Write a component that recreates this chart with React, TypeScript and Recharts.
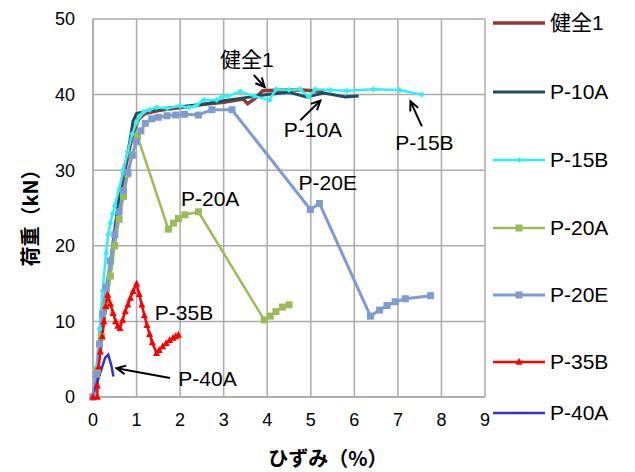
import React from 'react';
import { LineChart, Line, XAxis, YAxis, CartesianGrid, Legend, ReferenceLine, ReferenceDot } from 'recharts';

const FONT = '"Liberation Sans", Arial, "Noto Sans CJK JP", sans-serif';
const CJK = '"Noto Sans CJK JP", "Liberation Sans", sans-serif';

// ---- data (strain %, load kN) ----
const KENZEN_X = [0, 0.15, 0.3, 0.45, 0.6, 0.75, 0.9, 1.05, 1.2, 1.5, 2.0, 2.5, 3.0, 3.45, 3.55, 3.7, 3.9, 4.3, 4.8, 5.3];
const KENZEN_Y = [0, 6, 12.5, 19, 25, 30.5, 34.5, 36.8, 37.5, 37.9, 38.3, 38.7, 39.0, 39.4, 38.8, 39.4, 40.5, 40.6, 40.6, 40.4];

const P10A_X = [0, 0.15, 0.3, 0.45, 0.6, 0.7, 0.77, 0.85, 0.92, 1.0, 1.2, 1.5, 2.0, 2.5, 3.0, 3.5, 4.0, 4.5, 4.9, 5.3, 5.8, 6.1];
const P10A_Y = [0, 6, 13, 20, 26.5, 30, 31.5, 34, 36.5, 37.5, 37.8, 38.1, 38.4, 38.7, 39.2, 39.6, 40.0, 40.3, 39.7, 40.2, 39.7, 39.8];

const P15B_X = [0, 0.08, 0.15, 0.22, 0.3, 0.35, 0.4, 0.45, 0.5, 0.6, 0.7, 0.8, 0.9, 1.0, 1.08, 1.16, 1.3, 1.46, 1.7, 2.0, 2.2, 2.38, 2.54, 2.84, 2.96, 3.1, 3.38, 3.7, 4.05, 4.2, 4.5, 4.76, 4.95, 5.1, 5.45, 5.83, 6.44, 7.04, 7.55];
const P15B_Y = [0, 4, 9, 14, 19, 21.5, 23, 24.2, 25.3, 27.5, 30, 32.5, 34.8, 36.3, 37.2, 37.7, 38, 38.3, 38.2, 38.5, 38.3, 38.6, 39.3, 39.3, 39.7, 39.8, 40.4, 39.8, 39.3, 40.7, 40.6, 40.7, 39.7, 40.7, 40.6, 40.5, 40.7, 40.6, 40.0];

const P20A_X = [0, 0.1, 0.2, 0.3, 0.4, 0.5, 0.6, 0.7, 0.8, 0.9, 1.02, 1.73, 1.85, 1.96, 2.11, 2.42, 3.93, 4.07, 4.2, 4.35, 4.5];
const P20A_Y = [0, 3.5, 8, 12, 16, 20, 23.5, 26.5, 29.5, 32, 34.5, 22.2, 23, 23.6, 24.1, 24.5, 10.2, 10.7, 11.3, 11.9, 12.2];

const P20E_X = [0, 0.08, 0.15, 0.22, 0.3, 0.4, 0.5, 0.6, 0.7, 0.8, 0.9, 1.0, 1.1, 1.2, 1.35, 1.5, 1.7, 1.9, 2.1, 2.42, 2.73, 3.19, 4.99, 5.2, 6.37, 6.58, 6.75, 6.94, 7.17, 7.75];
const P20E_Y = [0, 3, 7, 11, 14.5, 18, 21.5, 24.5, 27.3, 29.7, 32, 33.8, 35.2, 36.2, 36.8, 37, 37.2, 37.3, 37.4, 37.3, 38, 38, 24.8, 25.6, 10.7, 11.5, 12.1, 12.6, 13, 13.4];

const P35B_X = [0, 0.1, 0.1, 0.13, 0.17, 0.21, 0.25, 0.29, 0.34, 0.4, 0.46, 0.52, 0.57, 0.62, 0.68, 0.74, 0.8, 0.86, 0.92, 1.0, 1.06, 1.12, 1.18, 1.24, 1.3, 1.36, 1.46, 1.52, 1.6, 1.68, 1.76, 1.84, 1.9, 1.96];
const P35B_Y = [0, 0, 1.5, 4, 6, 8, 10, 12, 13.5, 12.3, 11.1, 10, 9.4, 9.1, 10.2, 11.3, 12.2, 13.1, 14, 15, 13.6, 12.2, 10.8, 9.5, 8.3, 7.2, 5.8, 6.2, 6.7, 7.1, 7.5, 7.8, 8, 8.2];

const P40A_X = [0, 0.1, 0.2, 0.28, 0.35, 0.42, 0.47];
const P40A_Y = [0.5, 2, 3.8, 5.2, 5.6, 4.2, 2.7];

const X_TICKS = [0, 1, 2, 3, 4, 5, 6, 7, 8, 9];
const Y_TICKS = [0, 10, 20, 30, 40, 50];

const toPts = (xs: number[], ys: number[]) => xs.map((x, i) => ({ x, y: ys[i] }));

type Marker = 'none' | 'square' | 'triangle' | 'diamond';
const SERIES: { name: string; color: string; width: number; marker: Marker; size: number; data: { x: number; y: number }[] }[] = [
  { name: '健全1', color: '#953735', width: 3.5, marker: 'none', size: 0, data: toPts(KENZEN_X, KENZEN_Y) },
  { name: 'P-10A', color: '#1F4E5F', width: 3, marker: 'none', size: 0, data: toPts(P10A_X, P10A_Y) },
  { name: 'P-15B', color: '#2EF2F2', width: 2.5, marker: 'diamond', size: 6, data: toPts(P15B_X, P15B_Y) },
  { name: 'P-20A', color: '#9BBB59', width: 2.5, marker: 'square', size: 7, data: toPts(P20A_X, P20A_Y) },
  { name: 'P-20E', color: '#7E9CCF', width: 3, marker: 'square', size: 7, data: toPts(P20E_X, P20E_Y) },
  { name: 'P-35B', color: '#FF0000', width: 2.5, marker: 'triangle', size: 7, data: toPts(P35B_X, P35B_Y) },
  { name: 'P-40A', color: '#3333CC', width: 2.5, marker: 'none', size: 0, data: toPts(P40A_X, P40A_Y) },
];

const NOTE_TEXT: { label: string; x: number; y: number }[] = [
  { label: '健全1', x: 3.53, y: 44.6 },
  { label: 'P-10A', x: 5.05, y: 35.4 },
  { label: 'P-15B', x: 7.61, y: 33.7 },
  { label: 'P-20A', x: 2.69, y: 26.3 },
  { label: 'P-20E', x: 5.39, y: 28.4 },
  { label: 'P-35B', x: 2.09, y: 11.2 },
  { label: 'P-40A', x: 2.63, y: 2.4 },
];
const NOTE_ARROWS: { from: { x: number; y: number }; to: { x: number; y: number } }[] = [
  { from: { x: 3.69, y: 42.6 }, to: { x: 3.94, y: 41.0 } },
  { from: { x: 4.76, y: 36.6 }, to: { x: 5.22, y: 39.2 } },
  { from: { x: 7.55, y: 35.8 }, to: { x: 7.29, y: 39.1 } },
  { from: { x: 1.77, y: 2.5 }, to: { x: 0.54, y: 3.8 } },
];

const LEGEND_TOPS = [15, 84, 152, 220, 287, 354, 405];

function markerShape(kind: Marker, color: string, size: number, cx: number, cy: number, key?: any) {
  const h = size / 2;
  if (kind === 'square') return <rect key={key} x={cx - h} y={cy - h} width={size} height={size} fill={color} />;
  if (kind === 'triangle')
    return <polygon key={key} points={`${cx},${cy - size * 0.6} ${cx - h},${cy + size * 0.4} ${cx + h},${cy + size * 0.4}`} fill={color} />;
  if (kind === 'diamond')
    return <polygon key={key} points={`${cx},${cy - h} ${cx + h},${cy} ${cx},${cy + h} ${cx - h},${cy}`} fill={color} />;
  return <g key={key} />;
}

const makeDot = (kind: Marker, color: string, size: number) => (p: any) => {
  const k = `d-${p.index}`;
  if (p.cx == null || p.cy == null) return <g key={k} />;
  return markerShape(kind, color, size, p.cx, p.cy, k);
};

const renderLegend = () => (
  <div style={{ position: 'relative', width: 134, height: 420, fontFamily: FONT }}>
    {SERIES.map((s, i) => (
      <div key={s.name} style={{ position: 'absolute', left: 0, top: LEGEND_TOPS[i] - 12, height: 24, display: 'flex', alignItems: 'center' }}>
        <svg width={54} height={12} style={{ display: 'block' }}>
          <line x1={0} y1={6} x2={52} y2={6} stroke={s.color} strokeWidth={s.width} />
          {markerShape(s.marker, s.color, s.size, 26, 6)}
        </svg>
        <span style={{ fontSize: 21, marginLeft: 3, color: '#000', whiteSpace: 'nowrap', lineHeight: '24px' }}>{s.name}</span>
      </div>
    ))}
  </div>
);

const arrowShape = (p: any) => {
  const { x1, y1, x2, y2 } = p;
  if ([x1, y1, x2, y2].some((v) => v == null || isNaN(v))) return <g />;
  const ang = Math.atan2(y2 - y1, x2 - x1);
  const L = 10;
  const a1 = ang + Math.PI - 0.45;
  const a2 = ang + Math.PI + 0.45;
  return (
    <g>
      <line x1={x1} y1={y1} x2={x2} y2={y2} stroke="#000" strokeWidth={2} />
      <polyline
        points={`${x2 + L * Math.cos(a1)},${y2 + L * Math.sin(a1)} ${x2},${y2} ${x2 + L * Math.cos(a2)},${y2 + L * Math.sin(a2)}`}
        fill="none"
        stroke="#000"
        strokeWidth={2}
      />
    </g>
  );
};

const textShape = (label: string) => (p: any) => (
  <text x={p.cx} y={p.cy} textAnchor="middle" dominantBaseline="central" fontSize={21} fontFamily={FONT} fill="#000">
    {label}
  </text>
);

export default function App() {
  return (
    <div style={{ width: 619, height: 464 }}>
      <LineChart width={619} height={464} margin={{ top: 11, right: 142, bottom: 45, left: 25 }}>
        <CartesianGrid stroke="#ABABAB" strokeWidth={1.5} />
        <XAxis
          type="number"
          dataKey="x"
          domain={[0, 9]}
          ticks={X_TICKS}
          interval={0}
          height={30}
          tickLine={false}
          tickMargin={10}
          axisLine={{ stroke: '#ABABAB', strokeWidth: 1.5 }}
          tick={{ fontSize: 18, fill: '#000', fontFamily: FONT }}
          allowDuplicatedCategory={false}
          label={{
            content: () => (
              <text x={320} y={449} textAnchor="middle" dominantBaseline="central" fontSize={20} fontWeight="bold" fontFamily={CJK} fill="#000">
                ひずみ（%）
              </text>
            ),
          }}
        />
        <YAxis
          type="number"
          dataKey="y"
          domain={[0, 50]}
          ticks={Y_TICKS}
          interval={0}
          width={60}
          tickLine={false}
          tickMargin={12}
          axisLine={{ stroke: '#ABABAB', strokeWidth: 1.5 }}
          tick={{ fontSize: 18, fill: '#000', fontFamily: FONT }}
          label={{
            content: () => (
              <text x={21} y={205} transform="rotate(-90 21 205)" textAnchor="middle" dominantBaseline="central" fontSize={20} fontWeight="bold" fontFamily={CJK} fill="#000">
                荷重（kN）
              </text>
            ),
          }}
        />
        <Legend layout="vertical" align="center" verticalAlign="middle" content={renderLegend} wrapperStyle={{ left: 485, top: 0, width: 134, height: 420 }} />
        {SERIES.map((s) => (
          <Line
            key={s.name}
            name={s.name}
            data={s.data}
            dataKey="y"
            type="linear"
            stroke={s.color}
            strokeWidth={s.width}
            dot={s.marker === 'none' ? false : makeDot(s.marker, s.color, s.size)}
            activeDot={false}
            isAnimationActive={false}
          />
        ))}
        {NOTE_ARROWS.map((a, i) => (
          <ReferenceLine key={`arr-${i}`} segment={[a.from, a.to]} shape={arrowShape} ifOverflow="visible" />
        ))}
        {NOTE_TEXT.map((t) => (
          <ReferenceDot key={`txt-${t.label}`} x={t.x} y={t.y} r={1} shape={textShape(t.label)} ifOverflow="visible" />
        ))}
      </LineChart>
    </div>
  );
}
